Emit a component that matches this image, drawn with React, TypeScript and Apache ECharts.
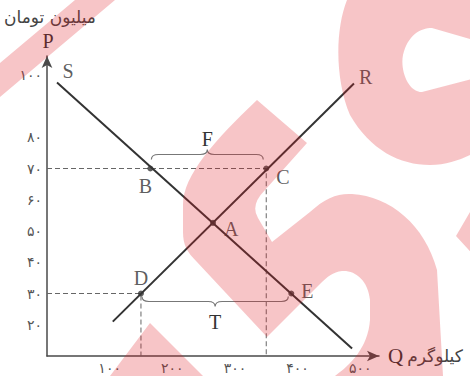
import React, { useEffect, useRef } from 'react';
import * as echarts from 'echarts';

// ---- data ----
const X_TICKS = [100, 200, 300, 400, 500];
const Y_TICKS = [20, 30, 40, 50, 60, 70, 80, 100];
const X_RANGE = [0, 530];
const Y_RANGE = [10, 106];
const S_LINE = [[16, 97.5], [487, 12.4]];
const R_LINE = [[105, 21], [490, 97.2]];
const POINT_NAMES = ['A', 'B', 'C', 'D', 'E'];
const POINT_Q = [265, 165, 350, 150, 390];
const POINT_P = [52.6, 70, 70, 30, 30];
const GUIDE_POINTS = ['C', 'D'];
const BRACE_NAMES = ['F', 'T'];
const BRACE_FROM = ['B', 'D'];
const BRACE_TO = ['C', 'E'];
const BRACE_DIR = [-1, 1];
const Y_UNIT = 'میلیون تومان';
const X_UNIT = 'کیلوگرم';

const fa = (v: number | string) => String(v).replace(/\d/g, (d) => '۰۱۲۳۴۵۶۷۸۹'[+d]);
const pt = (name: string) => {
  const i = POINT_NAMES.indexOf(name);
  return [POINT_Q[i], POINT_P[i]];
};

const WM_PATH = [
  'M0 63 L75 0 L115 0 L0 97 Z',
  'M257 100 L307 143 L265 190 Q250 205 258 218 L272 242 L310 212 C325 198 338 193 352 194 C390 196 425 225 437 270 L443 376 L335 376 C350 365 368 348 370 320 L370 300 C368 280 355 270 342 271 C333 272 327 277 320 284 L267 337 L197 262 C187 252 183 245 183 232 L183 205 C183 175 215 140 257 100 Z',
  'M347 0 C335 30 335 80 350 115 C370 150 400 165 430 165 C450 165 465 158 480 150 L480 0 Z',
  'M403 55 C408 35 420 28 432 28 L480 42 L480 77 L422 92 C408 92 400 70 403 55 Z',
  'M150 323 L110 376 L203 376 Z',
  'M480 195 L456 236 L480 262 Z',
].join(' ');

echarts.graphic.registerShape('wmark', echarts.graphic.extendPath(WM_PATH, {}) as any);

const SERIF = 'Liberation Serif, DejaVu Serif, serif';
const FA_FONT = 'DejaVu Sans, Noto Sans, sans-serif';
const INK = '#333';

const LABEL_POS: Record<string, any> = {
  A: { position: 'right', offset: [3, 6] },
  B: { position: 'bottom', offset: [-5, -1] },
  C: { position: 'right', offset: [2, 8] },
  D: { position: 'top', offset: [0, 2] },
  E: { position: 'right', offset: [2, -3] },
};

export default function App() {
  const ref = useRef<HTMLDivElement>(null);
  useEffect(() => {
    if (!ref.current) return;
    const chart = echarts.init(ref.current, null, { renderer: 'svg' });

    const guideSeries: any[] = [];
    GUIDE_POINTS.forEach((n) => {
      const [q, p] = pt(n);
      guideSeries.push({
        type: 'line',
        data: [[X_RANGE[0], p], [q, p], [q, Y_RANGE[0]]],
        symbol: 'none',
        silent: true,
        lineStyle: { color: '#666', width: 1, type: [5, 3] },
        z: 1,
      });
    });

    const braceData = BRACE_NAMES.map((_, i) => {
      const a = pt(BRACE_FROM[i]);
      const b = pt(BRACE_TO[i]);
      return [a[0], b[0], a[1], BRACE_DIR[i]];
    });

    const option: any = {
      animation: false,
      backgroundColor: '#fff',
      grid: { left: 47, right: 91, top: 56, bottom: 20, outerBoundsMode: 'none' },
      xAxis: {
        type: 'value',
        min: X_RANGE[0],
        max: X_RANGE[1],
        name: '{q|Q}{u|' + X_UNIT + '}',
        nameLocation: 'end',
        nameGap: 9,
        nameTextStyle: {
          rich: {
            q: { fontFamily: SERIF, fontSize: 21, color: INK },
            u: { fontFamily: FA_FONT, fontSize: 17, color: '#444', padding: [0, 0, 0, 4] },
          },
        },
        axisLine: {
          onZero: false,
          symbol: ['none', 'arrow'],
          symbolSize: [8, 12],
          lineStyle: { color: '#4a4a4a', width: 1.5 },
        },
        axisTick: { show: false },
        splitLine: { show: false },
        axisLabel: {
          customValues: X_TICKS,
          formatter: (v: number) => fa(v),
          fontFamily: FA_FONT,
          fontSize: 14,
          color: '#555',
          margin: 5,
        },
      },
      yAxis: {
        type: 'value',
        min: Y_RANGE[0],
        max: Y_RANGE[1],
        name: 'P',
        nameLocation: 'end',
        nameGap: 5,
        nameTextStyle: { fontFamily: SERIF, fontSize: 20, color: INK, padding: [0, 0, 0, 2] },
        axisLine: {
          onZero: false,
          symbol: ['none', 'arrow'],
          symbolSize: [8, 12],
          lineStyle: { color: '#4a4a4a', width: 1.5 },
        },
        axisTick: { show: false },
        splitLine: { show: false },
        axisLabel: {
          customValues: Y_TICKS,
          formatter: (v: number) => fa(v),
          fontFamily: FA_FONT,
          fontSize: 14,
          color: '#555',
          margin: 5,
        },
      },
      graphic: [
        {
          type: 'text',
          left: 4,
          top: 8,
          silent: true,
          style: { text: Y_UNIT, font: '17px ' + FA_FONT, fill: '#444' },
        },
        {
          type: 'wmark',
          x: 0,
          y: 0,
          silent: true,
          z: 100,
          style: { fill: 'rgba(222, 22, 32, 0.25)', stroke: 'none' },
        },
      ],
      series: [
        ...guideSeries,
        {
          type: 'line',
          data: S_LINE,
          symbol: 'none',
          lineStyle: { color: INK, width: 2 },
          z: 3,
        },
        {
          type: 'line',
          data: R_LINE,
          symbol: 'none',
          lineStyle: { color: INK, width: 2 },
          z: 3,
        },
        {
          type: 'scatter',
          symbolSize: 0,
          z: 4,
          data: [
            { value: S_LINE[0], label: { formatter: 'S', position: 'top', offset: [11, 0] } },
            { value: R_LINE[1], label: { formatter: 'R', position: 'right', offset: [3, -7] } },
          ],
          label: { show: true, fontFamily: SERIF, fontSize: 20, color: INK, distance: 2 },
        },
        {
          type: 'scatter',
          symbol: 'circle',
          symbolSize: 6,
          itemStyle: { color: INK },
          z: 5,
          data: POINT_NAMES.map((n, i) => ({
            name: n,
            value: [POINT_Q[i], POINT_P[i]],
            label: { ...LABEL_POS[n] },
          })),
          label: {
            show: true,
            formatter: '{b}',
            fontFamily: SERIF,
            fontSize: 20,
            color: INK,
            distance: 5,
          },
        },
        {
          type: 'custom',
          coordinateSystem: 'cartesian2d',
          data: braceData,
          z: 4,
          renderItem: (params: any, api: any) => {
            const q1 = api.value(0);
            const q2 = api.value(1);
            const p = api.value(2);
            const dir = api.value(3);
            const a = api.coord([q1, p]);
            const b = api.coord([q2, p]);
            const gap = dir < 0 ? 9 : 3;
            const y0 = a[1] + dir * gap;
            const y1 = y0 + dir * 5;
            const y2 = y0 + dir * 10;
            const x1 = a[0] + 1;
            const x2 = b[0] - 3;
            const xm = (x1 + x2) / 2;
            const r = 7;
            const d =
              `M${x1} ${y0} Q${x1} ${y1} ${x1 + r} ${y1} L${xm - r} ${y1} Q${xm} ${y1} ${xm} ${y2} ` +
              `Q${xm} ${y1} ${xm + r} ${y1} L${x2 - r} ${y1} Q${x2} ${y1} ${x2} ${y0}`;
            return {
              type: 'group',
              children: [
                {
                  type: 'path',
                  shape: { pathData: d },
                  style: { fill: 'none', stroke: '#777', lineWidth: 1.2 },
                },
                {
                  type: 'text',
                  x: xm,
                  y: y2 + dir * (dir < 0 ? 11 : 15),
                  style: {
                    text: BRACE_NAMES[params.dataIndex],
                    font: '20px ' + SERIF,
                    fill: INK,
                    align: 'center',
                    verticalAlign: 'middle',
                  },
                },
              ],
            };
          },
        },
      ],
    };
    chart.setOption(option);
    return () => chart.dispose();
  }, []);
  return (
    <div
      ref={ref}
      style={{ position: 'fixed', left: 0, top: 0, width: 470, height: 376, background: '#fff' }}
    />
  );
}
